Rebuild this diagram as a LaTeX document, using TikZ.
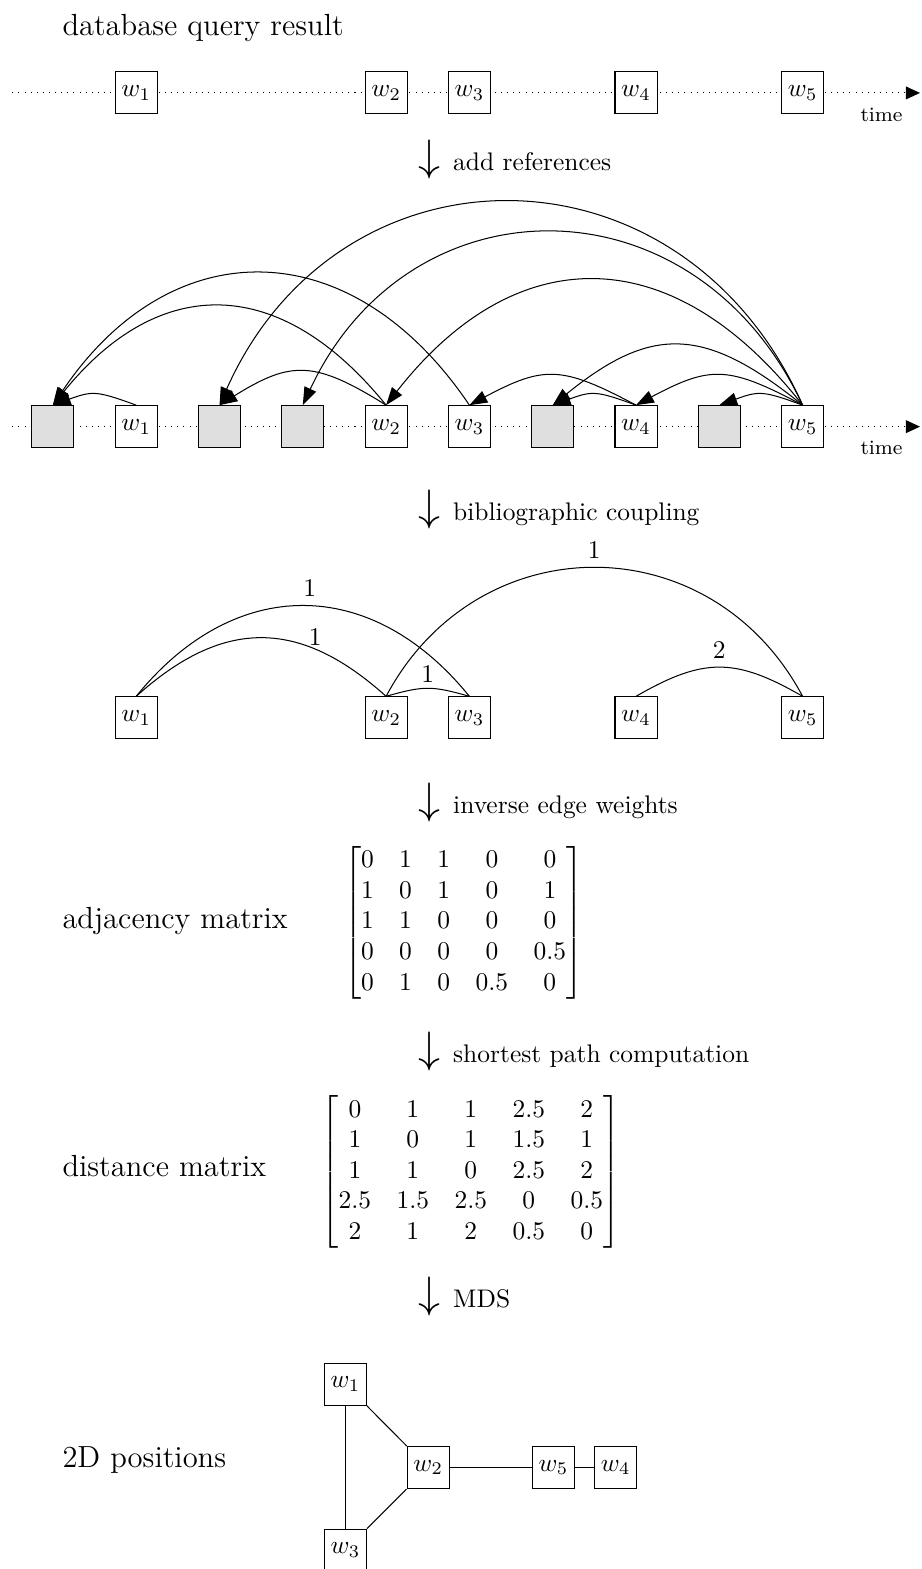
\documentclass[tikz,border=0pt]{standalone}
\usepackage{amsmath}
\usetikzlibrary{arrows.meta}

\begin{document}
\begin{tikzpicture}

	% Page size
	\useasboundingbox (0,0) rectangle (12.726,-21.66);

	% Box and arrow styles
	\tikzstyle{paper} = [rectangle, draw, fill=white, minimum size=0.58cm, inner sep=0pt]
	\tikzstyle{cited} = [rectangle, draw, fill=gray!25, minimum size=0.58cm, inner sep=0pt]
	\tikzstyle{caption} = [anchor=west, inner sep=0pt, font=\large]
	\tikzstyle{stage} = [anchor=west, inner sep=0pt]
	\tikzstyle{timeline} = [dotted, -{Triangle[length=5.5pt, width=5pt]}]
	\tikzstyle{cites} = [-{Triangle[length=7pt, width=5pt]}, looseness=1.3]
	\tikzstyle{coupling} = [looseness=1.2]

	% Database query result
	\node[caption] (dbtext) at (0.856,-0.386) {database query result};
	\coordinate (t1start) at (0.17,-1.283);
	\coordinate (t1end) at (12.70,-1.283);
	\draw[timeline] (t1start) -- (t1end);
	\node[font=\footnotesize] (time1) at (12.17,-1.59) {time};
	\node[paper] (db1) at (1.88,-1.283) {$w_1$};
	\node[paper] (db2) at (5.33,-1.283) {$w_2$};
	\node[paper] (db3) at (6.48,-1.283) {$w_3$};
	\node[paper] (db4) at (8.78,-1.283) {$w_4$};
	\node[paper] (db5) at (11.08,-1.283) {$w_5$};

	\node[stage] (step1) at (5.77,-2.208) {{\LARGE$\downarrow$}\enspace add references};

	% With references
	\coordinate (t2start) at (0.17,-5.89);
	\coordinate (t2end) at (12.70,-5.89);
	\draw[timeline] (t2start) -- (t2end);
	\node[font=\footnotesize] (time2) at (12.17,-6.18) {time};
	\node[cited] (c1) at (0.73,-5.89) {};
	\node[paper] (r1) at (1.88,-5.89) {$w_1$};
	\node[cited] (c2) at (3.03,-5.89) {};
	\node[cited] (c3) at (4.18,-5.89) {};
	\node[paper] (r2) at (5.33,-5.89) {$w_2$};
	\node[paper] (r3) at (6.48,-5.89) {$w_3$};
	\node[cited] (c4) at (7.63,-5.89) {};
	\node[paper] (r4) at (8.78,-5.89) {$w_4$};
	\node[cited] (c5) at (9.93,-5.89) {};
	\node[paper] (r5) at (11.08,-5.89) {$w_5$};

	% Citations
	\draw[cites] (r1.north) to[bend right=20] (c1.north);
	\draw[cites] (r2.north) to[bend right=51] (c1.north);
	\draw[cites] (r3.north) to[bend right=56] (c1.north);
	\draw[cites] (r2.north) to[bend right=32] (c2.north);
	\draw[cites] (r5.north) to[bend right=66] (c2.north);
	\draw[cites] (r5.north) to[bend right=65] (c3.north);
	\draw[cites] (r5.north) to[bend right=52] (r2.north);
	\draw[cites] (r4.north) to[bend right=28] (r3.north);
	\draw[cites] (r5.north) to[bend right=39] (c4.north);
	\draw[cites] (r4.north) to[bend right=20] (c4.north);
	\draw[cites] (r5.north) to[bend right=28] (r4.north);
	\draw[cites] (r5.north) to[bend right=20] (c5.north);

	\node[stage] (step2) at (5.77,-7.04) {{\LARGE$\downarrow$}\enspace bibliographic coupling};

	% Coupling graph
	\node[paper] (b1) at (1.88,-9.91) {$w_1$};
	\node[paper] (b2) at (5.33,-9.91) {$w_2$};
	\node[paper] (b3) at (6.48,-9.91) {$w_3$};
	\node[paper] (b4) at (8.78,-9.91) {$w_4$};
	\node[paper] (b5) at (11.08,-9.91) {$w_5$};
	\draw[coupling] (b1.north) to[bend left=51] node[pos=0.52, above] {1} (b3.north);
	\draw[coupling] (b1.north) to[bend left=42] node[pos=0.72, above, inner sep=1pt] {1} (b2.north);
	\draw[coupling] (b2.north) to[bend left=16] node[above, inner sep=2pt] {1} (b3.north);
	\draw[coupling] (b2.north) to[bend left=62] node[above] {1} (b5.north);
	\draw[coupling] (b4.north) to[bend left=30] node[above] {2} (b5.north);

	\node[stage] (step3) at (5.77,-11.08) {{\LARGE$\downarrow$}\enspace inverse edge weights};

	% Adjacency matrix
	\node[caption] (adjtext) at (0.856,-12.72) {adjacency matrix};
	\node (adj) at (6.40,-12.74) {$\begin{bmatrix}
		0 & 1 & 1 & 0 & 0\\
		1 & 0 & 1 & 0 & 1\\
		1 & 1 & 0 & 0 & 0\\
		0 & 0 & 0 & 0 & 0.5\\
		0 & 1 & 0 & 0.5 & 0
	\end{bmatrix}$};

	\node[stage] (step4) at (5.77,-14.52) {{\LARGE$\downarrow$}\enspace shortest path computation};

	% Distance matrix
	\node[caption] (disttext) at (0.856,-16.10) {distance matrix};
	\node (dist) at (6.50,-16.18) {$\begin{bmatrix}
		0 & 1 & 1 & 2.5 & 2\\
		1 & 0 & 1 & 1.5 & 1\\
		1 & 1 & 0 & 2.5 & 2\\
		2.5 & 1.5 & 2.5 & 0 & 0.5\\
		2 & 1 & 2 & 0.5 & 0
	\end{bmatrix}$};

	\node[stage] (step5) at (5.77,-17.90) {{\LARGE$\downarrow$}\enspace MDS};

	% 2D positions
	\node[caption] (postext) at (0.856,-20.15) {2D positions};
	\node[paper] (m1) at (4.77,-19.11) {$w_1$};
	\node[paper] (m2) at (5.91,-20.26) {$w_2$};
	\node[paper] (m3) at (4.77,-21.40) {$w_3$};
	\node[paper] (m5) at (7.64,-20.26) {$w_5$};
	\node[paper] (m4) at (8.50,-20.26) {$w_4$};
	\draw (m1) -- (m3);
	\draw (m1) -- (m2);
	\draw (m2) -- (m3);
	\draw (m2) -- (m5);
	\draw (m5) -- (m4);

\end{tikzpicture}
\end{document}
